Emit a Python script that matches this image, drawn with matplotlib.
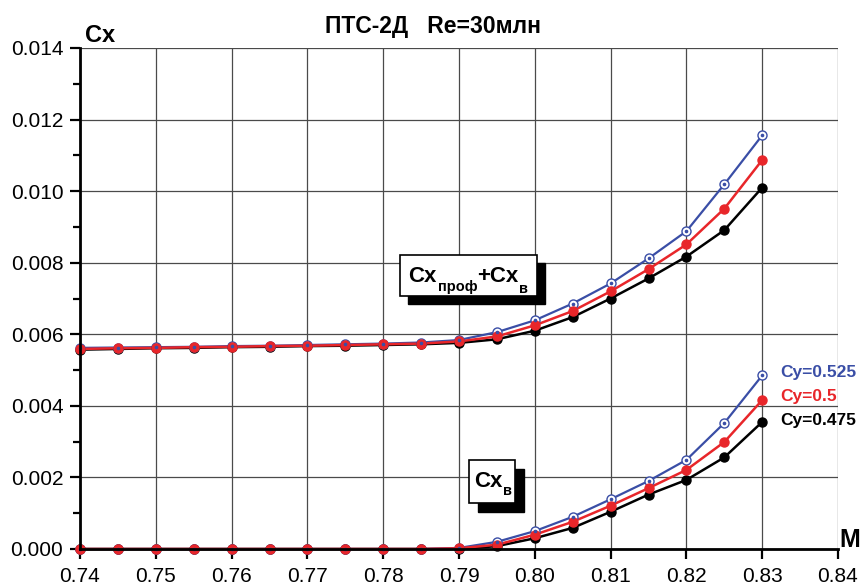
import matplotlib
matplotlib.use("Agg")
import matplotlib.pyplot as plt
from matplotlib.patches import Rectangle
from matplotlib.ticker import MultipleLocator, FormatStrFormatter

plt.rcParams['font.family'] = ['Liberation Sans', 'DejaVu Sans']

# Mach numbers
M = [0.74, 0.745, 0.75, 0.755, 0.76, 0.765, 0.77, 0.775, 0.78, 0.785,
     0.79, 0.795, 0.80, 0.805, 0.81, 0.815, 0.82, 0.825, 0.83]

# Cx_prof + Cx_v (total)
cx_tot_475 = [0.00557, 0.00559, 0.00561, 0.00562, 0.00564, 0.00565, 0.00567, 0.00568, 0.00570, 0.00572,
              0.00576, 0.00586, 0.00610, 0.00648, 0.00700, 0.00756, 0.00817, 0.00891, 0.01010]
cx_tot_500 = [0.00559, 0.00561, 0.00562, 0.00564, 0.00565, 0.00567, 0.00568, 0.00570, 0.00572, 0.00574,
              0.00580, 0.00594, 0.00625, 0.00665, 0.00720, 0.00782, 0.00851, 0.00951, 0.01087]
cx_tot_525 = [0.00562, 0.00563, 0.00564, 0.00565, 0.00567, 0.00568, 0.00570, 0.00572, 0.00574, 0.00577,
              0.00584, 0.00606, 0.00639, 0.00686, 0.00742, 0.00812, 0.00888, 0.01019, 0.01156]

# Cx_v (wave drag)
cx_v_475 = [0, 0, 0, 0, 0, 0, 0, 0, 0, 0,
            0.0, 0.00008, 0.00030, 0.00059, 0.00104, 0.00152, 0.00193, 0.00256, 0.00355]
cx_v_500 = [0, 0, 0, 0, 0, 0, 0, 0, 0, 0,
            0.00002, 0.00012, 0.00040, 0.00076, 0.00121, 0.00170, 0.00221, 0.00299, 0.00416]
cx_v_525 = [0, 0, 0, 0, 0, 0, 0, 0, 0, 0,
            0.00003, 0.00020, 0.00050, 0.00090, 0.00139, 0.00190, 0.00249, 0.00352, 0.00485]

BLUE = '#3a4ea6'
RED = '#e8262a'
BLACK = '#000000'

W, H = 862, 588
fig = plt.figure(figsize=(W / 100, H / 100), dpi=100)
ax = fig.add_axes([80 / W, 1 - 549 / H, 758 / W, 501 / H])

ax.set_xlim(0.74, 0.84)
ax.set_ylim(0.0, 0.014)

def plot_blue(y):
    ax.plot(M, y, color=BLUE, lw=1.6, zorder=3, clip_on=False)
    ax.plot(M, y, 'o', ms=6.5, mfc='white', mec=BLUE, mew=1.0, zorder=4, clip_on=False)
    ax.plot(M, y, 'o', ms=1.6, mfc=BLUE, mec=BLUE, zorder=5, clip_on=False)

def plot_filled(y, c):
    ax.plot(M, y, color=c, lw=1.8, zorder=3, clip_on=False)
    ax.plot(M, y, 'o', ms=6.5, color=c, zorder=4, clip_on=False)

# lower (wave drag) set
plot_filled(cx_v_475, BLACK)
plot_blue(cx_v_525)
plot_filled(cx_v_500, RED)
# upper (total) set
plot_filled(cx_tot_475, BLACK)
plot_blue(cx_tot_525)
plot_filled(cx_tot_500, RED)

# grid and axes styling
ax.xaxis.set_major_locator(MultipleLocator(0.01))
ax.yaxis.set_major_locator(MultipleLocator(0.002))
ax.yaxis.set_minor_locator(MultipleLocator(0.001))
ax.xaxis.set_major_formatter(FormatStrFormatter('%.2f'))
ax.yaxis.set_major_formatter(FormatStrFormatter('%.3f'))
ax.grid(True, which='major', color='#4a4a4a', lw=0.9, zorder=1)
ax.set_axisbelow(True)
for s in ['top', 'right']:
    ax.spines[s].set_visible(False)
for s in ['left', 'bottom']:
    ax.spines[s].set_linewidth(2.0)
    ax.spines[s].set_zorder(6)
ax.tick_params(axis='both', which='major', direction='out', length=7, width=1.6,
               labelsize=15)
ax.tick_params(axis='x', which='major', pad=6)
ax.tick_params(axis='y', which='major', pad=5)
ax.tick_params(axis='y', which='minor', direction='out', length=5, width=1.6)

def ptext(px, py, s, **kw):
    return fig.text(px / W, 1 - py / H, s, **kw)

# axis labels
ptext(85, 35, 'Cx', fontsize=17, fontweight='bold', ha='left', va='center')
ptext(850, 540, 'M', fontsize=18, fontweight='bold', ha='center', va='center')

# title
ptext(433, 27, 'ПТС-2Д   Re=30млн', fontsize=16.5, fontweight='bold',
      ha='center', va='center')

# boxed labels with shadow
def shadow_box(x0, y0, x1, y1, off):
    fx0, fx1 = x0 / W, x1 / W
    fy0, fy1 = 1 - y1 / H, 1 - y0 / H
    fig.add_artist(Rectangle((fx0 + off / W, fy0 - off / H), fx1 - fx0, fy1 - fy0,
                             transform=fig.transFigure, facecolor='black',
                             edgecolor='black', zorder=7))
    fig.add_artist(Rectangle((fx0, fy0), fx1 - fx0, fy1 - fy0,
                             transform=fig.transFigure, facecolor='white',
                             edgecolor='black', lw=1.2, zorder=8))

big = dict(fontsize=16, fontweight='bold', ha='left', va='baseline', zorder=9)
small = dict(fontsize=10.5, fontweight='bold', ha='left', va='baseline', zorder=9)

shadow_box(400, 255, 537, 296, 8)
ptext(408, 282, 'Cx', **big)
ptext(438, 291, 'проф', **small)
ptext(477, 282, '+Cx', **big)
ptext(519, 293, 'в', **small)

shadow_box(469, 460, 515, 503, 9)
ptext(474, 487, 'Cx', **big)
ptext(503, 495, 'в', **small)

# legend texts
ptext(780, 373, 'Cy=0.525', color=BLUE, fontsize=12.5, fontweight='bold',
      ha='left', va='center')
ptext(780, 397, 'Cy=0.5', color=RED, fontsize=12.5, fontweight='bold',
      ha='left', va='center')
ptext(780, 421, 'Cy=0.475', color=BLACK, fontsize=12.5, fontweight='bold',
      ha='left', va='center')

fig.savefig('out.png', dpi=100)
